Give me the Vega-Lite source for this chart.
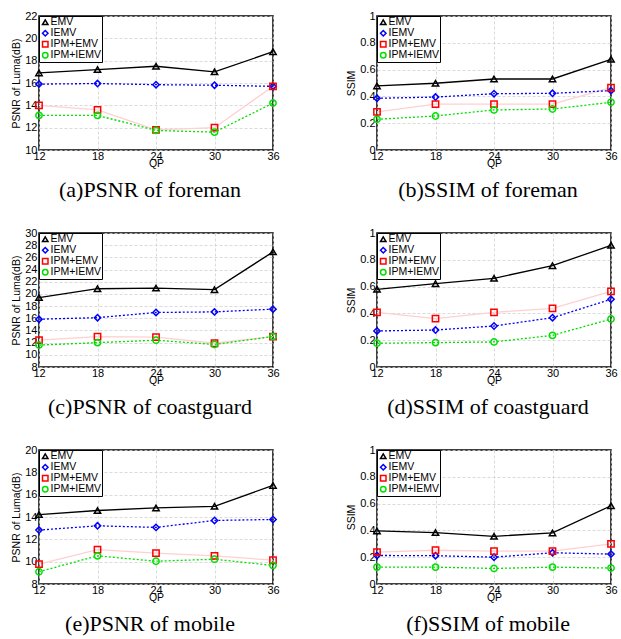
{
  "$schema": "https://vega.github.io/schema/vega-lite/v6.json",
  "background": "white",
  "padding": {"left": 11, "top": 9, "right": 5, "bottom": 5},
  "datasets": {
    "d": [
      {"p":"a","m":"EMV","qp":12,"v":16.9},{"p":"a","m":"EMV","qp":18,"v":17.2},{"p":"a","m":"EMV","qp":24,"v":17.5},{"p":"a","m":"EMV","qp":30,"v":17.0},{"p":"a","m":"EMV","qp":36,"v":18.8},
      {"p":"a","m":"IEMV","qp":12,"v":15.9},{"p":"a","m":"IEMV","qp":18,"v":15.95},{"p":"a","m":"IEMV","qp":24,"v":15.85},{"p":"a","m":"IEMV","qp":30,"v":15.8},{"p":"a","m":"IEMV","qp":36,"v":15.7},
      {"p":"a","m":"IPM+EMV","qp":12,"v":14.0},{"p":"a","m":"IPM+EMV","qp":18,"v":13.6},{"p":"a","m":"IPM+EMV","qp":24,"v":11.8},{"p":"a","m":"IPM+EMV","qp":30,"v":12.0},{"p":"a","m":"IPM+EMV","qp":36,"v":15.7},
      {"p":"a","m":"IPM+IEMV","qp":12,"v":13.1},{"p":"a","m":"IPM+IEMV","qp":18,"v":13.1},{"p":"a","m":"IPM+IEMV","qp":24,"v":11.75},{"p":"a","m":"IPM+IEMV","qp":30,"v":11.6},{"p":"a","m":"IPM+IEMV","qp":36,"v":14.2},

      {"p":"b","m":"EMV","qp":12,"v":0.478},{"p":"b","m":"EMV","qp":18,"v":0.498},{"p":"b","m":"EMV","qp":24,"v":0.53},{"p":"b","m":"EMV","qp":30,"v":0.53},{"p":"b","m":"EMV","qp":36,"v":0.677},
      {"p":"b","m":"IEMV","qp":12,"v":0.386},{"p":"b","m":"IEMV","qp":18,"v":0.395},{"p":"b","m":"IEMV","qp":24,"v":0.42},{"p":"b","m":"IEMV","qp":30,"v":0.423},{"p":"b","m":"IEMV","qp":36,"v":0.443},
      {"p":"b","m":"IPM+EMV","qp":12,"v":0.284},{"p":"b","m":"IPM+EMV","qp":18,"v":0.343},{"p":"b","m":"IPM+EMV","qp":24,"v":0.343},{"p":"b","m":"IPM+EMV","qp":30,"v":0.343},{"p":"b","m":"IPM+EMV","qp":36,"v":0.465},
      {"p":"b","m":"IPM+IEMV","qp":12,"v":0.229},{"p":"b","m":"IPM+IEMV","qp":18,"v":0.254},{"p":"b","m":"IPM+IEMV","qp":24,"v":0.299},{"p":"b","m":"IPM+IEMV","qp":30,"v":0.306},{"p":"b","m":"IPM+IEMV","qp":36,"v":0.356},

      {"p":"c","m":"EMV","qp":12,"v":19.4},{"p":"c","m":"EMV","qp":18,"v":20.85},{"p":"c","m":"EMV","qp":24,"v":20.95},{"p":"c","m":"EMV","qp":30,"v":20.7},{"p":"c","m":"EMV","qp":36,"v":26.9},
      {"p":"c","m":"IEMV","qp":12,"v":15.85},{"p":"c","m":"IEMV","qp":18,"v":16.1},{"p":"c","m":"IEMV","qp":24,"v":16.95},{"p":"c","m":"IEMV","qp":30,"v":17.05},{"p":"c","m":"IEMV","qp":36,"v":17.5},
      {"p":"c","m":"IPM+EMV","qp":12,"v":12.4},{"p":"c","m":"IPM+EMV","qp":18,"v":13.0},{"p":"c","m":"IPM+EMV","qp":24,"v":12.9},{"p":"c","m":"IPM+EMV","qp":30,"v":11.9},{"p":"c","m":"IPM+EMV","qp":36,"v":13.0},
      {"p":"c","m":"IPM+IEMV","qp":12,"v":11.6},{"p":"c","m":"IPM+IEMV","qp":18,"v":12.0},{"p":"c","m":"IPM+IEMV","qp":24,"v":12.4},{"p":"c","m":"IPM+IEMV","qp":30,"v":11.7},{"p":"c","m":"IPM+IEMV","qp":36,"v":13.0},

      {"p":"d","m":"EMV","qp":12,"v":0.58},{"p":"d","m":"EMV","qp":18,"v":0.622},{"p":"d","m":"EMV","qp":24,"v":0.662},{"p":"d","m":"EMV","qp":30,"v":0.756},{"p":"d","m":"EMV","qp":36,"v":0.908},
      {"p":"d","m":"IEMV","qp":12,"v":0.269},{"p":"d","m":"IEMV","qp":18,"v":0.276},{"p":"d","m":"IEMV","qp":24,"v":0.306},{"p":"d","m":"IEMV","qp":30,"v":0.368},{"p":"d","m":"IEMV","qp":36,"v":0.505},
      {"p":"d","m":"IPM+EMV","qp":12,"v":0.408},{"p":"d","m":"IPM+EMV","qp":18,"v":0.361},{"p":"d","m":"IPM+EMV","qp":24,"v":0.408},{"p":"d","m":"IPM+EMV","qp":30,"v":0.438},{"p":"d","m":"IPM+EMV","qp":36,"v":0.565},
      {"p":"d","m":"IPM+IEMV","qp":12,"v":0.177},{"p":"d","m":"IPM+IEMV","qp":18,"v":0.182},{"p":"d","m":"IPM+IEMV","qp":24,"v":0.187},{"p":"d","m":"IPM+IEMV","qp":30,"v":0.236},{"p":"d","m":"IPM+IEMV","qp":36,"v":0.358},

      {"p":"e","m":"EMV","qp":12,"v":14.22},{"p":"e","m":"EMV","qp":18,"v":14.58},{"p":"e","m":"EMV","qp":24,"v":14.81},{"p":"e","m":"EMV","qp":30,"v":14.96},{"p":"e","m":"EMV","qp":36,"v":16.83},
      {"p":"e","m":"IEMV","qp":12,"v":12.83},{"p":"e","m":"IEMV","qp":18,"v":13.21},{"p":"e","m":"IEMV","qp":24,"v":13.07},{"p":"e","m":"IEMV","qp":30,"v":13.69},{"p":"e","m":"IEMV","qp":36,"v":13.78},
      {"p":"e","m":"IPM+EMV","qp":12,"v":9.78},{"p":"e","m":"IPM+EMV","qp":18,"v":11.08},{"p":"e","m":"IPM+EMV","qp":24,"v":10.76},{"p":"e","m":"IPM+EMV","qp":30,"v":10.52},{"p":"e","m":"IPM+EMV","qp":36,"v":10.13},
      {"p":"e","m":"IPM+IEMV","qp":12,"v":9.1},{"p":"e","m":"IPM+IEMV","qp":18,"v":10.52},{"p":"e","m":"IPM+IEMV","qp":24,"v":10.04},{"p":"e","m":"IPM+IEMV","qp":30,"v":10.22},{"p":"e","m":"IPM+IEMV","qp":36,"v":9.66},

      {"p":"f","m":"EMV","qp":12,"v":0.396},{"p":"f","m":"EMV","qp":18,"v":0.384},{"p":"f","m":"EMV","qp":24,"v":0.356},{"p":"f","m":"EMV","qp":30,"v":0.381},{"p":"f","m":"EMV","qp":36,"v":0.584},
      {"p":"f","m":"IEMV","qp":12,"v":0.213},{"p":"f","m":"IEMV","qp":18,"v":0.211},{"p":"f","m":"IEMV","qp":24,"v":0.2},{"p":"f","m":"IEMV","qp":30,"v":0.233},{"p":"f","m":"IEMV","qp":36,"v":0.223},
      {"p":"f","m":"IPM+EMV","qp":12,"v":0.238},{"p":"f","m":"IPM+EMV","qp":18,"v":0.252},{"p":"f","m":"IPM+EMV","qp":24,"v":0.245},{"p":"f","m":"IPM+EMV","qp":30,"v":0.245},{"p":"f","m":"IPM+EMV","qp":36,"v":0.3},
      {"p":"f","m":"IPM+IEMV","qp":12,"v":0.126},{"p":"f","m":"IPM+IEMV","qp":18,"v":0.126},{"p":"f","m":"IPM+IEMV","qp":24,"v":0.116},{"p":"f","m":"IPM+IEMV","qp":30,"v":0.126},{"p":"f","m":"IPM+IEMV","qp":36,"v":0.119}
    ]
  },
  "config": {
    "view": {"stroke": "black", "strokeWidth": 1.5},
    "font": "Liberation Sans",
    "axis": {
      "labelFont": "Liberation Sans", "labelFontSize": 11, "labelColor": "black",
      "titleFont": "Liberation Sans", "titleFontSize": 10.5, "titleFontWeight": "normal", "titleColor": "black",
      "ticks": false, "domain": false, "labelFlush": false, "labelOverlap": false,
      "gridColor": "#d0d0d0", "gridDash": [3, 2], "gridWidth": 0.8, "labelPadding": 2
    },
    "axisX": {"titlePadding": -3, "labelPadding": 0},
    "axisY": {"titlePadding": 3},
    "legend": {
      "orient": "top-left", "offset": 0, "padding": 1, "rowPadding": -2,
      "strokeColor": "black", "fillColor": "white",
      "labelFont": "Liberation Sans", "labelFontSize": 10.5, "labelColor": "black", "labelOffset": 0,
      "symbolSize": 30, "symbolStrokeWidth": 1.5
    },
    "title": {"font": "Liberation Serif", "fontSize": 22, "fontWeight": "normal", "color": "black", "orient": "bottom", "offset": 11, "frame": "group", "anchor": "middle", "dx": -6}
  },
  "columns": 2,
  "spacing": {"row": 83, "column": 104},
  "bounds": "flush",
  "resolve": {
    "scale": {"color": "independent", "shape": "independent"},
    "legend": {"color": "independent", "shape": "independent"}
  },
  "concat": [
    {
      "width": 234, "height": 134,
      "title": {"text": "(a)PSNR of foreman"},
      "data": {"name": "d"},
      "transform": [{"filter": "datum.p == 'a'"}],
      "encoding": {
        "x": {"field": "qp", "type": "quantitative", "scale": {"domain": [12, 36]}, "axis": {"values": [12, 18, 24, 30, 36], "title": "QP"}},
        "y": {"field": "v", "type": "quantitative", "scale": {"domain": [10, 22]}, "axis": {"values": [10, 12, 14, 16, 18, 20, 22], "title": "PSNR of Luma(dB)"}}
      },
      "layer": [
        {"transform": [{"filter": "datum.m == 'IPM+EMV'"}], "mark": {"type": "line", "stroke": "#ffd0d0", "strokeWidth": 1.3}, "encoding": {}},
        {"transform": [{"filter": "datum.m == 'IPM+IEMV'"}], "mark": {"type": "line", "stroke": "#00e000", "strokeWidth": 1.3, "strokeDash": [2, 2]}, "encoding": {}},
        {"transform": [{"filter": "datum.m == 'IEMV'"}], "mark": {"type": "line", "stroke": "#0000ff", "strokeWidth": 1.3, "strokeDash": [2, 2]}, "encoding": {}},
        {"transform": [{"filter": "datum.m == 'EMV'"}], "mark": {"type": "line", "stroke": "#000000", "strokeWidth": 1.3}, "encoding": {}},
        {"mark": {"type": "point", "filled": false, "strokeWidth": 1.5, "size": 40, "opacity": 1},
         "encoding": {
           "color": {"field": "m", "type": "nominal", "scale": {"domain": ["EMV", "IEMV", "IPM+EMV", "IPM+IEMV"], "range": ["#000000", "#0000ff", "#ff0000", "#00e000"]}, "legend": {"title": null}},
           "shape": {"field": "m", "type": "nominal", "scale": {"domain": ["EMV", "IEMV", "IPM+EMV", "IPM+IEMV"], "range": ["triangle-up", "diamond", "square", "circle"]}, "legend": {"title": null}}
         }}
      ]
    },
    {
      "width": 234, "height": 134,
      "title": {"text": "(b)SSIM of foreman"},
      "data": {"name": "d"},
      "transform": [{"filter": "datum.p == 'b'"}],
      "encoding": {
        "x": {"field": "qp", "type": "quantitative", "scale": {"domain": [12, 36]}, "axis": {"values": [12, 18, 24, 30, 36], "title": "QP"}},
        "y": {"field": "v", "type": "quantitative", "scale": {"domain": [0, 1]}, "axis": {"values": [0, 0.2, 0.4, 0.6, 0.8, 1], "format": "~g", "title": "SSIM"}}
      },
      "layer": [
        {"transform": [{"filter": "datum.m == 'IPM+EMV'"}], "mark": {"type": "line", "stroke": "#ffd0d0", "strokeWidth": 1.3}, "encoding": {}},
        {"transform": [{"filter": "datum.m == 'IPM+IEMV'"}], "mark": {"type": "line", "stroke": "#00e000", "strokeWidth": 1.3, "strokeDash": [2, 2]}, "encoding": {}},
        {"transform": [{"filter": "datum.m == 'IEMV'"}], "mark": {"type": "line", "stroke": "#0000ff", "strokeWidth": 1.3, "strokeDash": [2, 2]}, "encoding": {}},
        {"transform": [{"filter": "datum.m == 'EMV'"}], "mark": {"type": "line", "stroke": "#000000", "strokeWidth": 1.3}, "encoding": {}},
        {"mark": {"type": "point", "filled": false, "strokeWidth": 1.5, "size": 40, "opacity": 1},
         "encoding": {
           "color": {"field": "m", "type": "nominal", "scale": {"domain": ["EMV", "IEMV", "IPM+EMV", "IPM+IEMV"], "range": ["#000000", "#0000ff", "#ff0000", "#00e000"]}, "legend": {"title": null}},
           "shape": {"field": "m", "type": "nominal", "scale": {"domain": ["EMV", "IEMV", "IPM+EMV", "IPM+IEMV"], "range": ["triangle-up", "diamond", "square", "circle"]}, "legend": {"title": null}}
         }}
      ]
    },
    {
      "width": 234, "height": 134,
      "title": {"text": "(c)PSNR of coastguard"},
      "data": {"name": "d"},
      "transform": [{"filter": "datum.p == 'c'"}],
      "encoding": {
        "x": {"field": "qp", "type": "quantitative", "scale": {"domain": [12, 36]}, "axis": {"values": [12, 18, 24, 30, 36], "title": "QP"}},
        "y": {"field": "v", "type": "quantitative", "scale": {"domain": [8, 30]}, "axis": {"values": [8, 10, 12, 14, 16, 18, 20, 22, 24, 26, 28, 30], "title": "PSNR of Luma(dB)"}}
      },
      "layer": [
        {"transform": [{"filter": "datum.m == 'IPM+EMV'"}], "mark": {"type": "line", "stroke": "#ffd0d0", "strokeWidth": 1.3}, "encoding": {}},
        {"transform": [{"filter": "datum.m == 'IPM+IEMV'"}], "mark": {"type": "line", "stroke": "#00e000", "strokeWidth": 1.3, "strokeDash": [2, 2]}, "encoding": {}},
        {"transform": [{"filter": "datum.m == 'IEMV'"}], "mark": {"type": "line", "stroke": "#0000ff", "strokeWidth": 1.3, "strokeDash": [2, 2]}, "encoding": {}},
        {"transform": [{"filter": "datum.m == 'EMV'"}], "mark": {"type": "line", "stroke": "#000000", "strokeWidth": 1.3}, "encoding": {}},
        {"mark": {"type": "point", "filled": false, "strokeWidth": 1.5, "size": 40, "opacity": 1},
         "encoding": {
           "color": {"field": "m", "type": "nominal", "scale": {"domain": ["EMV", "IEMV", "IPM+EMV", "IPM+IEMV"], "range": ["#000000", "#0000ff", "#ff0000", "#00e000"]}, "legend": {"title": null}},
           "shape": {"field": "m", "type": "nominal", "scale": {"domain": ["EMV", "IEMV", "IPM+EMV", "IPM+IEMV"], "range": ["triangle-up", "diamond", "square", "circle"]}, "legend": {"title": null}}
         }}
      ]
    },
    {
      "width": 234, "height": 134,
      "title": {"text": "(d)SSIM of coastguard"},
      "data": {"name": "d"},
      "transform": [{"filter": "datum.p == 'd'"}],
      "encoding": {
        "x": {"field": "qp", "type": "quantitative", "scale": {"domain": [12, 36]}, "axis": {"values": [12, 18, 24, 30, 36], "title": "QP"}},
        "y": {"field": "v", "type": "quantitative", "scale": {"domain": [0, 1]}, "axis": {"values": [0, 0.2, 0.4, 0.6, 0.8, 1], "format": "~g", "title": "SSIM"}}
      },
      "layer": [
        {"transform": [{"filter": "datum.m == 'IPM+EMV'"}], "mark": {"type": "line", "stroke": "#ffd0d0", "strokeWidth": 1.3}, "encoding": {}},
        {"transform": [{"filter": "datum.m == 'IPM+IEMV'"}], "mark": {"type": "line", "stroke": "#00e000", "strokeWidth": 1.3, "strokeDash": [2, 2]}, "encoding": {}},
        {"transform": [{"filter": "datum.m == 'IEMV'"}], "mark": {"type": "line", "stroke": "#0000ff", "strokeWidth": 1.3, "strokeDash": [2, 2]}, "encoding": {}},
        {"transform": [{"filter": "datum.m == 'EMV'"}], "mark": {"type": "line", "stroke": "#000000", "strokeWidth": 1.3}, "encoding": {}},
        {"mark": {"type": "point", "filled": false, "strokeWidth": 1.5, "size": 40, "opacity": 1},
         "encoding": {
           "color": {"field": "m", "type": "nominal", "scale": {"domain": ["EMV", "IEMV", "IPM+EMV", "IPM+IEMV"], "range": ["#000000", "#0000ff", "#ff0000", "#00e000"]}, "legend": {"title": null}},
           "shape": {"field": "m", "type": "nominal", "scale": {"domain": ["EMV", "IEMV", "IPM+EMV", "IPM+IEMV"], "range": ["triangle-up", "diamond", "square", "circle"]}, "legend": {"title": null}}
         }}
      ]
    },
    {
      "width": 234, "height": 134,
      "title": {"text": "(e)PSNR of mobile"},
      "data": {"name": "d"},
      "transform": [{"filter": "datum.p == 'e'"}],
      "encoding": {
        "x": {"field": "qp", "type": "quantitative", "scale": {"domain": [12, 36]}, "axis": {"values": [12, 18, 24, 30, 36], "title": "QP"}},
        "y": {"field": "v", "type": "quantitative", "scale": {"domain": [8, 20]}, "axis": {"values": [8, 10, 12, 14, 16, 18, 20], "title": "PSNR of Luma(dB)"}}
      },
      "layer": [
        {"transform": [{"filter": "datum.m == 'IPM+EMV'"}], "mark": {"type": "line", "stroke": "#ffd0d0", "strokeWidth": 1.3}, "encoding": {}},
        {"transform": [{"filter": "datum.m == 'IPM+IEMV'"}], "mark": {"type": "line", "stroke": "#00e000", "strokeWidth": 1.3, "strokeDash": [2, 2]}, "encoding": {}},
        {"transform": [{"filter": "datum.m == 'IEMV'"}], "mark": {"type": "line", "stroke": "#0000ff", "strokeWidth": 1.3, "strokeDash": [2, 2]}, "encoding": {}},
        {"transform": [{"filter": "datum.m == 'EMV'"}], "mark": {"type": "line", "stroke": "#000000", "strokeWidth": 1.3}, "encoding": {}},
        {"mark": {"type": "point", "filled": false, "strokeWidth": 1.5, "size": 40, "opacity": 1},
         "encoding": {
           "color": {"field": "m", "type": "nominal", "scale": {"domain": ["EMV", "IEMV", "IPM+EMV", "IPM+IEMV"], "range": ["#000000", "#0000ff", "#ff0000", "#00e000"]}, "legend": {"title": null}},
           "shape": {"field": "m", "type": "nominal", "scale": {"domain": ["EMV", "IEMV", "IPM+EMV", "IPM+IEMV"], "range": ["triangle-up", "diamond", "square", "circle"]}, "legend": {"title": null}}
         }}
      ]
    },
    {
      "width": 234, "height": 134,
      "title": {"text": "(f)SSIM of mobile"},
      "data": {"name": "d"},
      "transform": [{"filter": "datum.p == 'f'"}],
      "encoding": {
        "x": {"field": "qp", "type": "quantitative", "scale": {"domain": [12, 36]}, "axis": {"values": [12, 18, 24, 30, 36], "title": "QP"}},
        "y": {"field": "v", "type": "quantitative", "scale": {"domain": [0, 1]}, "axis": {"values": [0, 0.2, 0.4, 0.6, 0.8, 1], "format": "~g", "title": "SSIM"}}
      },
      "layer": [
        {"transform": [{"filter": "datum.m == 'IPM+EMV'"}], "mark": {"type": "line", "stroke": "#ffd0d0", "strokeWidth": 1.3}, "encoding": {}},
        {"transform": [{"filter": "datum.m == 'IPM+IEMV'"}], "mark": {"type": "line", "stroke": "#00e000", "strokeWidth": 1.3, "strokeDash": [2, 2]}, "encoding": {}},
        {"transform": [{"filter": "datum.m == 'IEMV'"}], "mark": {"type": "line", "stroke": "#0000ff", "strokeWidth": 1.3, "strokeDash": [2, 2]}, "encoding": {}},
        {"transform": [{"filter": "datum.m == 'EMV'"}], "mark": {"type": "line", "stroke": "#000000", "strokeWidth": 1.3}, "encoding": {}},
        {"mark": {"type": "point", "filled": false, "strokeWidth": 1.5, "size": 40, "opacity": 1},
         "encoding": {
           "color": {"field": "m", "type": "nominal", "scale": {"domain": ["EMV", "IEMV", "IPM+EMV", "IPM+IEMV"], "range": ["#000000", "#0000ff", "#ff0000", "#00e000"]}, "legend": {"title": null}},
           "shape": {"field": "m", "type": "nominal", "scale": {"domain": ["EMV", "IEMV", "IPM+EMV", "IPM+IEMV"], "range": ["triangle-up", "diamond", "square", "circle"]}, "legend": {"title": null}}
         }}
      ]
    }
  ]
}
